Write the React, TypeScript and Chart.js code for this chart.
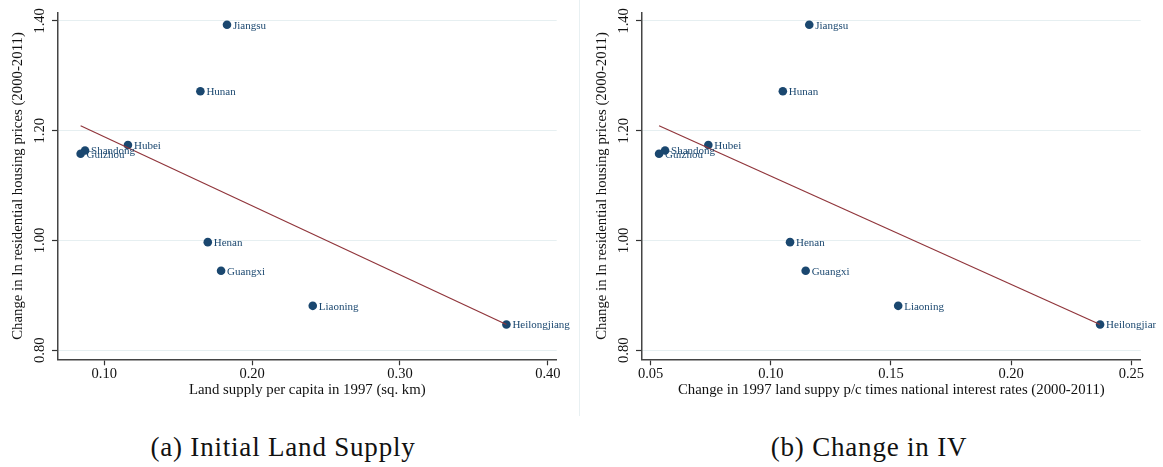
import React, { useEffect, useRef } from 'react';
import { Chart, registerables } from 'chart.js';

Chart.register(...registerables);

const provinces = ['Jiangsu', 'Hunan', 'Hubei', 'Shandong', 'Guizhou', 'Henan', 'Guangxi', 'Liaoning', 'Heilongjiang'];
const priceChange = [1.393, 1.272, 1.174, 1.164, 1.158, 0.997, 0.945, 0.881, 0.847];
const landSupply = [0.183, 0.165, 0.116, 0.087, 0.084, 0.170, 0.179, 0.241, 0.372];
const ivChange = [0.116, 0.105, 0.074, 0.056, 0.0535, 0.108, 0.1145, 0.153, 0.237];

const landFitX = [0.084, 0.372];
const landFitY = [1.209, 0.847];
const ivFitX = [0.0535, 0.237];
const ivFitY = [1.209, 0.847];

const landTicks = [0.1, 0.2, 0.3, 0.4];
const ivTicks = [0.05, 0.1, 0.15, 0.2, 0.25];
const priceTicks = [0.8, 1.0, 1.2, 1.4];

const yTitle = 'Change in ln residential housing prices (2000-2011)';
const landTitle = 'Land supply per capita in 1997 (sq. km)';
const ivTitle = 'Change in 1997 land suppy p/c times national interest rates (2000-2011)';

const SERIF = '"Liberation Serif", "Times New Roman", Times, serif';
const DOT = '#1a476f';
const FIT = '#90353b';
const TITLE_SIZE = 14.8;
const TICK_SIZE = 14.5;

type PanelProps = {
  xs: number[];
  fitX: number[];
  fitY: number[];
  xTicks: number[];
  xMin: number;
  xMax: number;
  xTitle: string;
  yAxisWidth: number;
  rightPad: number;
  width: number;
  height: number;
  left: number;
};

const labelPlugin = {
  id: 'pointLabels',
  afterDatasetsDraw(chart: any) {
    const meta = chart.getDatasetMeta(1);
    const ctx = chart.ctx;
    ctx.save();
    ctx.font = `11px ${SERIF}`;
    ctx.fillStyle = DOT;
    ctx.textAlign = 'left';
    ctx.textBaseline = 'middle';
    meta.data.forEach((el: any, i: number) => {
      ctx.fillText(provinces[i], el.x + 6, el.y + 1);
    });
    ctx.restore();
  },
};

const yLabelPlugin = {
  id: 'yRotLabels',
  afterDraw(chart: any) {
    const ys = chart.scales.y;
    const ctx = chart.ctx;
    ctx.save();
    ctx.font = `${TICK_SIZE}px ${SERIF}`;
    ctx.fillStyle = '#111';
    ctx.textAlign = 'center';
    ctx.textBaseline = 'middle';
    ys.ticks.forEach((t: any) => {
      const py = ys.getPixelForValue(t.value);
      ctx.save();
      ctx.translate(chart.chartArea.left - 18, py);
      ctx.rotate(-Math.PI / 2);
      ctx.fillText(Number(t.value).toFixed(2), 0, 0);
      ctx.restore();
    });
    ctx.restore();
  },
};

function Panel(p: PanelProps) {
  const ref = useRef<HTMLCanvasElement | null>(null);
  useEffect(() => {
    if (!ref.current) return;
    const half = (TITLE_SIZE * 1.2) / 2;
    const chart = new Chart(ref.current, {
      type: 'scatter',
      data: {
        datasets: [
          {
            label: 'Fitted values',
            data: p.fitX.map((x, i) => ({ x, y: p.fitY[i] })),
            showLine: true,
            borderColor: FIT,
            backgroundColor: FIT,
            borderWidth: 1.2,
            pointRadius: 0,
            order: 0,
          },
          {
            label: 'Provinces',
            data: p.xs.map((x, i) => ({ x, y: priceChange[i] })),
            backgroundColor: DOT,
            borderColor: DOT,
            borderWidth: 0,
            pointRadius: 4.3,
            order: 1,
          },
        ],
      },
      options: {
        animation: false,
        responsive: false,
        maintainAspectRatio: false,
        layout: { padding: { left: 0, right: p.rightPad, top: 12.7, bottom: 0 } },
        plugins: { legend: { display: false }, tooltip: { enabled: false } },
        scales: {
          x: {
            type: 'linear',
            min: p.xMin,
            max: p.xMax,
            afterBuildTicks: (s: any) => {
              s.ticks = p.xTicks.map((v) => ({ value: v }));
            },
            afterFit: (s: any) => {
              s.height = 50.7;
            },
            grid: { drawOnChartArea: false, tickLength: 6, tickColor: '#333', tickWidth: 1.2 },
            border: { color: '#444', width: 1.5 },
            ticks: {
              font: { family: SERIF, size: TICK_SIZE },
              color: '#111',
              padding: 0,
              maxRotation: 0,
              autoSkip: false,
              callback: (v: any) => Number(v).toFixed(2),
            },
            title: {
              display: true,
              text: p.xTitle,
              font: { family: SERIF, size: TITLE_SIZE },
              color: '#111',
              padding: { top: 0, bottom: 20 - half },
            },
          },
          y: {
            type: 'linear',
            min: 0.7836,
            max: 1.415,
            afterBuildTicks: (s: any) => {
              s.ticks = priceTicks.map((v) => ({ value: v }));
            },
            afterFit: (s: any) => {
              s.width = p.yAxisWidth;
            },
            grid: { color: '#e6eff1', lineWidth: 1, tickLength: 6, tickColor: '#333', tickWidth: 1.2 },
            border: { color: '#444', width: 1.5 },
            ticks: { display: false },
            title: {
              display: true,
              text: yTitle,
              font: { family: SERIF, size: TITLE_SIZE },
              color: '#111',
              padding: { top: p.yAxisWidth - 40 - half, bottom: 0 },
            },
          },
        },
      },
      plugins: [labelPlugin, yLabelPlugin],
    } as any);
    return () => chart.destroy();
  }, []);
  return (
    <canvas
      ref={ref}
      width={p.width}
      height={p.height}
      style={{ position: 'absolute', left: p.left, top: 0, width: p.width, height: p.height }}
    />
  );
}

export default function App() {
  const caption: React.CSSProperties = {
    position: 'absolute',
    top: 430,
    fontFamily: SERIF,
    fontSize: 27,
    letterSpacing: '0.8px',
    color: '#111',
    whiteSpace: 'nowrap',
    transform: 'translateX(-50%)',
    lineHeight: '34px',
  };
  return (
    <div style={{ position: 'absolute', left: 0, top: 0, width: 1163, height: 467, background: '#fff', overflow: 'hidden' }}>
      <Panel
        xs={landSupply}
        fitX={landFitX}
        fitY={landFitY}
        xTicks={landTicks}
        xMin={0.0687}
        xMax={0.406}
        xTitle={landTitle}
        yAxisWidth={58}
        rightPad={21.3}
        width={578}
        height={410}
        left={0}
      />
      <div style={{ position: 'absolute', left: 579, top: 0, width: 1, height: 416, background: '#e8f0f2' }} />
      <Panel
        xs={ivChange}
        fitX={ivFitX}
        fitY={ivFitY}
        xTicks={ivTicks}
        xMin={0.0464}
        xMax={0.2539}
        xTitle={ivTitle}
        yAxisWidth={62}
        rightPad={15.3}
        width={576}
        height={410}
        left={580}
      />
      <div style={{ ...caption, left: 283 }}>(a) Initial Land Supply</div>
      <div style={{ ...caption, left: 869 }}>(b) Change in IV</div>
    </div>
  );
}
